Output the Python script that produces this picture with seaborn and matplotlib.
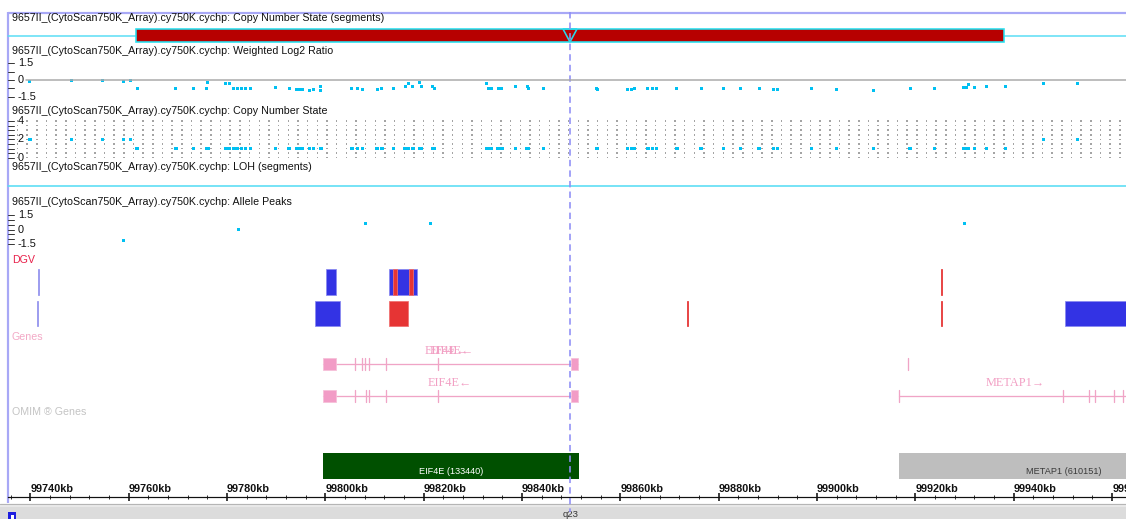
import matplotlib
matplotlib.use("Agg")
import matplotlib.pyplot as plt
from matplotlib.patches import Rectangle, Polygon
from matplotlib.ticker import MultipleLocator
import numpy as np
import pandas as pd
import seaborn as sns

# ---------------- data ----------------
sample = "9657II_(CytoScan750K_Array).cy750K.cychp"

segment_start_kb = 99761.5
segment_end_kb = 99937.96
cursor_kb = 99849.74

log2_kb = [99739.9, 99748.3, 99754.6, 99759.0, 99760.3, 99761.7, 99769.6, 99773.1, 99775.9, 99776.1,
           99779.6, 99780.4, 99781.4, 99782.2, 99783.0, 99783.8, 99784.7, 99789.9, 99792.6, 99794.2,
           99794.8, 99795.4, 99796.7, 99797.5, 99799.1, 99799.1, 99805.4, 99806.6, 99807.6, 99810.5,
           99811.5, 99813.9, 99816.2, 99816.8, 99817.8, 99819.2, 99819.6, 99821.7, 99822.1, 99832.7,
           99833.1, 99833.7, 99835.1, 99835.9, 99838.6, 99841.0, 99841.2, 99844.3, 99855.2, 99855.4,
           99861.5, 99862.3, 99862.9, 99865.6, 99866.6, 99867.4, 99871.5, 99876.4, 99880.9, 99884.4,
           99888.2, 99891.2, 99892.0, 99898.9, 99904.0, 99911.5, 99918.9, 99923.8, 99929.7, 99930.3,
           99930.7, 99932.0, 99934.4, 99938.3, 99946.0, 99952.9]
log2_val = [-0.09, 0.0, 0.0, -0.09, 0.0, -0.79, -0.79, -0.79, -0.79, -0.26,
            -0.35, -0.35, -0.71, -0.71, -0.71, -0.79, -0.71, -0.62, -0.71, -0.88,
            -0.88, -0.88, -0.97, -0.88, -0.53, -0.97, -0.71, -0.71, -0.88, -0.88,
            -0.71, -0.71, -0.53, -0.35, -0.53, -0.26, -0.53, -0.53, -0.71, -0.35,
            -0.71, -0.71, -0.71, -0.71, -0.53, -0.53, -0.79, -0.79, -0.71, -0.88,
            -0.88, -0.88, -0.79, -0.71, -0.71, -0.79, -0.79, -0.79, -0.79, -0.71,
            -0.79, -0.88, -0.88, -0.79, -0.88, -0.97, -0.79, -0.79, -0.62, -0.62,
            -0.44, -0.62, -0.53, -0.53, -0.35, -0.35]
cn_state = [2, 2, 2, 2, 2, 1, 1, 1, 1, 1,
            1, 1, 1, 1, 1, 1, 1, 1, 1, 1,
            1, 1, 1, 1, 1, 1, 1, 1, 1, 1,
            1, 1, 1, 1, 1, 1, 1, 1, 1, 1,
            1, 1, 1, 1, 1, 1, 1, 1, 1, 1,
            1, 1, 1, 1, 1, 1, 1, 1, 1, 1,
            1, 1, 1, 1, 1, 1, 1, 1, 1, 1,
            1, 1, 1, 1, 2, 2]

allele_kb = [99759.0, 99782.4, 99808.2, 99821.4, 99929.9]
allele_val = [-1.16, 0.02, 0.64, 0.57, 0.57]

log2_ticks = [1.5, 0, -1.5]
cn_ticks = [4, 2, 0]
allele_ticks = [1.5, 0, -1.5]

# DGV variants: row, start, end, kind (gain / loss / light)
dgv_row = [1, 1, 1, 1, 1, 1, 2, 2, 2, 2, 2, 2]
dgv_start = [99741.6, 99800.1, 99812.9, 99813.74, 99816.99, 99925.2,
             99741.3, 99797.9, 99812.9, 99873.5, 99925.2, 99950.4]
dgv_end = [99741.85, 99802.15, 99818.6, 99814.56, 99817.8, 99925.4,
           99741.6, 99803.0, 99816.8, 99873.7, 99925.4, 99990.0]
dgv_kind = ["light", "gain", "gain", "loss", "loss", "loss",
            "light", "gain", "loss", "loss", "loss", "gain"]

# RefSeq transcripts
eif4e_start, eif4e_end = 99799.5, 99851.4
eif4e_utr = [(99799.5, 99802.15), (99849.9, 99851.4)]
eif4e_exons_a = [99806.0, 99807.4, 99808.1, 99808.9, 99812.3, 99822.8]
eif4e_exons_b = [99806.0, 99808.2, 99808.9, 99812.3, 99822.8]
metap1_start = 99916.7
metap1_exons = [99916.6, 99950.0, 99955.3, 99956.5, 99960.4, 99962.2]
metap1_stray_exon = 99918.5

omim_name = ["EIF4E (133440)", "METAP1 (610151)"]
omim_start = [99799.5, 99916.6]
omim_end = [99851.6, 99990.0]

ruler_major = [99740, 99760, 99780, 99800, 99820, 99840, 99860, 99880, 99900, 99920, 99940, 99960]

# ---------------- layout ----------------
W, H, DPI = 1126, 519, 100
PX_PER_KB = 4.917
KB_AT_30 = 99740.0


def kb_at(px_x):
    return KB_AT_30 + (px_x - 30.4) / PX_PER_KB


def px(n):
    # pixels -> points for line widths and marker sizes
    return n * 72.0 / DPI


sns.set_theme(style="white")
plt.rcParams["font.family"] = ["Liberation Sans", "DejaVu Sans"]

fig = plt.figure(figsize=(W / DPI, H / DPI), dpi=DPI)
fig.patch.set_facecolor("white")

# frame layer in pixel coordinates
ax_f = fig.add_axes([0, 0, 1, 1])
ax_f.set_xlim(0, W)
ax_f.set_ylim(H, 0)
ax_f.set_axis_off()

# feature layer: kb across, pixel rows down
ax_k = fig.add_axes([0, 0, 1, 1])
ax_k.set_xlim(kb_at(0), kb_at(W))
ax_k.set_ylim(H, 0)
ax_k.set_axis_off()
ax_k.patch.set_alpha(0)

CYAN_PT = "#00C0F2"
LABEL_FS = 7.7
label_kw = dict(fontsize=LABEL_FS, color="#111111", va="center", ha="left")

# borders
ax_f.plot([8, W], [13, 13], color="#A8A8F6", lw=px(2.2), solid_capstyle="butt")
ax_f.plot([8, 8], [12, 503], color="#A8A8F6", lw=px(2.2), solid_capstyle="butt")

# track titles
ax_f.text(12, 18, f"{sample}: Copy Number State (segments)", **label_kw)
ax_f.text(12, 51.5, f"{sample}: Weighted Log2 Ratio", **label_kw)
ax_f.text(12, 110.5, f"{sample}: Copy Number State", **label_kw)
ax_f.text(12, 167.5, f"{sample}: LOH (segments)", **label_kw)
ax_f.text(12, 202, f"{sample}: Allele Peaks", **label_kw)
ax_f.text(12, 260, "DGV", fontsize=LABEL_FS, color="#E8204A", va="center", ha="left")
ax_f.text(12, 337, "Genes", fontsize=LABEL_FS, color="#F3A9C6", va="center", ha="left")
ax_f.text(12, 412, "OMIM ® Genes", fontsize=LABEL_FS, color="#C4C4C4", va="center", ha="left")

# copy number segment track
ax_k.plot([kb_at(8), kb_at(W)], [36, 36], color="#58DDF5", lw=px(1.5), zorder=1)
ax_k.add_patch(Rectangle((segment_start_kb, 28.5), segment_end_kb - segment_start_kb, 13,
                         facecolor="#B70000", edgecolor="#28E0F0", lw=px(1.6), zorder=3))
tri_half = 7 / PX_PER_KB
ax_k.add_patch(Polygon([(cursor_kb - tri_half, 29), (cursor_kb + tri_half, 29), (cursor_kb, 42)],
                       closed=True, fill=False, edgecolor="#28D8EA", lw=px(1.6), zorder=4))

# LOH segment baseline
ax_k.plot([kb_at(8), kb_at(W)], [186, 186], color="#58DDF5", lw=px(1.6))


def track_axes(top, bottom, ylim):
    ax = fig.add_axes([8 / W, (H - bottom) / H, (W - 8) / W, (bottom - top) / H])
    ax.set_xlim(kb_at(8), kb_at(W))
    ax.set_ylim(*ylim)
    ax.set_axis_off()
    ax.patch.set_alpha(0)
    return ax


def left_scale(ax, ticks, labels, minor):
    trans = ax.get_yaxis_transform()
    frac = 1.0 / (W - 8)
    for t in minor:
        ax.plot([0, 6 * frac], [t, t], color="#3a3a3a", lw=px(1), transform=trans)
    for t, lab in zip(ticks, labels):
        ax.text(10 * frac, t, lab, transform=trans, fontsize=7.9, color="#111111",
                va="center", ha="left")


# weighted log2 ratio
ax_l = track_axes(55, 105, (-25 / 11.33, 25 / 11.33))
ax_l.plot([kb_at(26), kb_at(W)], [0, 0], color="#A9A9A9", lw=px(1.5))
left_scale(ax_l, log2_ticks, ["1.5", "0", "-1.5"], [1.5, 0.75, 0, -0.75, -1.5])
df_log2 = pd.DataFrame({"kb": log2_kb, "log2": log2_val, "cn": cn_state})
sns.scatterplot(data=df_log2, x="kb", y="log2", ax=ax_l, marker="s", s=px(3.0) ** 2,
                color=CYAN_PT, edgecolor="none", linewidth=0, legend=False)
ax_l.set_axis_off()

# copy number state
ax_c = track_axes(115, 162, (-(162 - 157.7) / 9.17, (157.7 - 115) / 9.17))
grid_x = np.arange(kb_at(17.5), kb_at(W), 9.67 / PX_PER_KB)
grid_y = np.arange(0, 4.01, 0.5)
gx, gy = np.meshgrid(grid_x, grid_y)
ax_c.scatter(gx.ravel(), gy.ravel(), marker="s", s=px(1.5) ** 2, color="#A4A4A4",
             edgecolors="none")
left_scale(ax_c, cn_ticks, ["4", "2", "0"], [4, 3.5, 3, 2.5, 2, 1.5, 1, 0.5, 0])
sns.scatterplot(data=df_log2, x="kb", y="cn", ax=ax_c, marker="s", s=px(3.2) ** 2,
                color=CYAN_PT, edgecolor="none", linewidth=0, legend=False)
ax_c.set_axis_off()

# allele peaks
ax_a = track_axes(208, 250, (-(250 - 229.5) / 9.67, (229.5 - 208) / 9.67))
left_scale(ax_a, allele_ticks, ["1.5", "0", "-1.5"], [1.5, 1.0, 0.5, 0, -0.5, -1.0, -1.5])
df_allele = pd.DataFrame({"kb": allele_kb, "peak": allele_val})
sns.scatterplot(data=df_allele, x="kb", y="peak", ax=ax_a, marker="s", s=px(3.0) ** 2,
                color=CYAN_PT, edgecolor="none", linewidth=0, legend=False)
ax_a.set_axis_off()

# DGV
dgv_face = {"gain": "#3333E4", "loss": "#E63434", "light": "#9494EE"}
dgv_edge = {"gain": "#8A8AF0", "loss": "#F07070", "light": "#9494EE"}
row_top = {1: 269, 2: 300.5}
for r, s0, s1, k in zip(dgv_row, dgv_start, dgv_end, dgv_kind):
    thin = (s1 - s0) < 0.5
    ax_k.add_patch(Rectangle((s0, row_top[r]), s1 - s0, 25.5, facecolor=dgv_face[k],
                             edgecolor=dgv_face[k] if thin else dgv_edge[k],
                             lw=px(0.8)))

# genes
PINK = "#F29CC6"
PINK_LINE = "#F0A4C6"
gene_font = dict(family=["Liberation Serif", "DejaVu Serif"], fontsize=8.8, color="#F2A0C4",
                 va="center", ha="center")


def transcript(y, exons):
    ax_k.plot([eif4e_start, eif4e_end], [y, y], color=PINK_LINE, lw=px(1.3))
    for e in exons:
        ax_k.plot([e, e], [y - 6, y + 6], color=PINK_LINE, lw=px(1.3))
    for u0, u1 in eif4e_utr:
        ax_k.add_patch(Rectangle((u0, y - 6), u1 - u0, 12, facecolor=PINK,
                                 edgecolor="#F6C0D8", lw=px(0.8), zorder=3))


transcript(364, eif4e_exons_a)
transcript(395.5, eif4e_exons_b)
ax_k.text(99824.6, 351.5, "EIF4E←", **gene_font)
ax_k.text(99825.6, 351.5, "EIF4E←", **gene_font)
ax_k.text(99825.3, 382.5, "EIF4E←", **gene_font)

ax_k.plot([metap1_start, kb_at(W)], [395.5, 395.5], color=PINK_LINE, lw=px(1.3))
for e in metap1_exons:
    ax_k.plot([e, e], [389.5, 401.5], color=PINK_LINE, lw=px(1.3))
ax_k.plot([metap1_stray_exon, metap1_stray_exon], [358, 370], color=PINK_LINE, lw=px(1.3))
ax_k.text(99940.3, 382.5, "METAP1→", **gene_font)

# OMIM genes
omim_face = ["#005000", "#BEBEBE"]
omim_text = ["white", "#3a3a3a"]
omim_text_kb = [99825.6, 99950.2]
for name, s0, s1, fc, tc, tx in zip(omim_name, omim_start, omim_end, omim_face, omim_text, omim_text_kb):
    ax_k.add_patch(Rectangle((s0, 453), s1 - s0, 26, facecolor=fc, edgecolor="none"))
    ax_k.text(tx, 471, name, fontsize=6.6, color=tc, va="center", ha="center")

# cytoband strip
ax_f.add_patch(Rectangle((0, 503.5), W, 16, facecolor="#DCDCDC", edgecolor="none"))
ax_f.plot([0, W], [503.5, 503.5], color="#B5B5B5", lw=px(1.2))
ax_f.plot([0, W], [505.5, 505.5], color="#EDEDED", lw=px(1.5))
ax_f.add_patch(Rectangle((8, 512), 8, 8, facecolor="#1E1EE0", edgecolor="none"))
ax_f.add_patch(Rectangle((10.5, 514.5), 3, 5, facecolor="white", edgecolor="none"))
ax_f.text(563, 514.5, "q23", fontsize=6.8, color="#333333", va="center", ha="left")

# cursor
ax_k.plot([cursor_kb, cursor_kb], [12, 512], color="#8E8EF6", lw=px(1.6),
          dashes=(4, 2.6), zorder=5)

# ruler
ax_r = fig.add_axes([8 / W, (H - 498) / H, (W - 8) / W, 1 / H])
ax_r.set_xlim(kb_at(8), kb_at(W))
ax_r.set_ylim(0, 1)
ax_r.patch.set_alpha(0)
for side in ("left", "right", "bottom"):
    ax_r.spines[side].set_visible(False)
ax_r.spines["top"].set_color("#111111")
ax_r.spines["top"].set_linewidth(px(1.2))
ax_r.set_yticks([])
ax_r.xaxis.tick_top()
ax_r.set_xticks(ruler_major)
ax_r.xaxis.set_minor_locator(MultipleLocator(4))
ax_r.set_xticklabels([f"{v}kb" for v in ruler_major])
ax_r.tick_params(axis="x", which="major", direction="inout", length=6, width=px(1.6),
                 color="#111111", pad=-0.5, labelsize=7.8, labelcolor="#111111",
                 top=True, bottom=False, labeltop=True, labelbottom=False)
ax_r.tick_params(axis="x", which="minor", direction="inout", length=3, width=px(1),
                 color="#333333", top=True, bottom=False)
plt.setp(ax_r.get_xticklabels(), ha="left", fontweight="bold")

fig.savefig("out.png", dpi=DPI, facecolor="white")
